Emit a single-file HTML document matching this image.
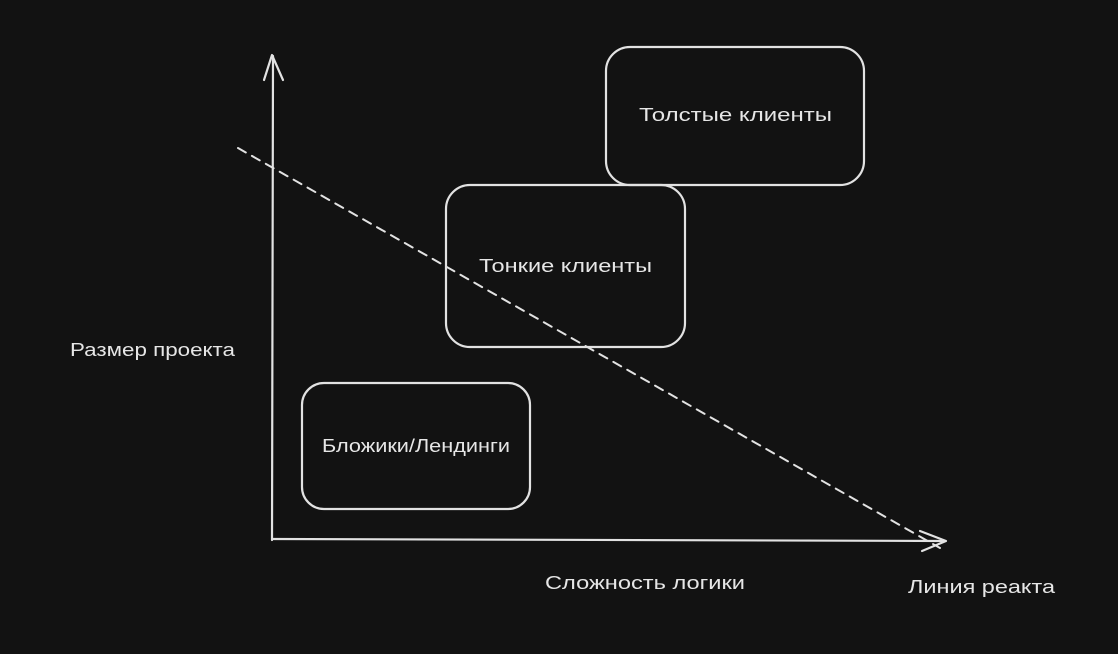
<!DOCTYPE html>
<html><head><meta charset="utf-8"><style>
html,body{margin:0;padding:0;background:#121212;}
svg{display:block;}
text{font-family:"Liberation Sans","DejaVu Sans",sans-serif;font-size:18px;fill:#e6e6e6;}
</style></head><body>
<svg width="1118" height="654" viewBox="0 0 1118 654" xmlns="http://www.w3.org/2000/svg">
<rect width="1118" height="654" fill="#121212"/>
<g stroke="#e2e2e2" stroke-width="2.2" fill="none" stroke-linecap="round" stroke-linejoin="round">
  <path d="M272 540 L273 56"/>
  <path d="M264 80 L272 55 L283 80"/>
  <path d="M273 539 L945 541"/>
  <path d="M920 531 L946 541 L922 551"/>
  <rect x="606" y="47" width="258" height="138" rx="24"/>
  <rect x="446" y="185" width="239" height="162" rx="24"/>
  <rect x="302" y="383" width="228" height="126" rx="22"/>
  <path d="M238 148 L940 548" stroke-dasharray="9 7" stroke-width="2"/>
</g>
<text x="639" y="121" textLength="193" lengthAdjust="spacingAndGlyphs">Толстые клиенты</text>
<text x="479" y="272" textLength="173" lengthAdjust="spacingAndGlyphs">Тонкие клиенты</text>
<text x="322" y="452" textLength="188" lengthAdjust="spacingAndGlyphs">Бложики/Лендинги</text>
<text x="70" y="356" textLength="165" lengthAdjust="spacingAndGlyphs">Размер проекта</text>
<text x="545" y="589" textLength="200" lengthAdjust="spacingAndGlyphs">Сложность логики</text>
<text x="908" y="593" textLength="147" lengthAdjust="spacingAndGlyphs">Линия реакта</text>
</svg>
</body></html>
